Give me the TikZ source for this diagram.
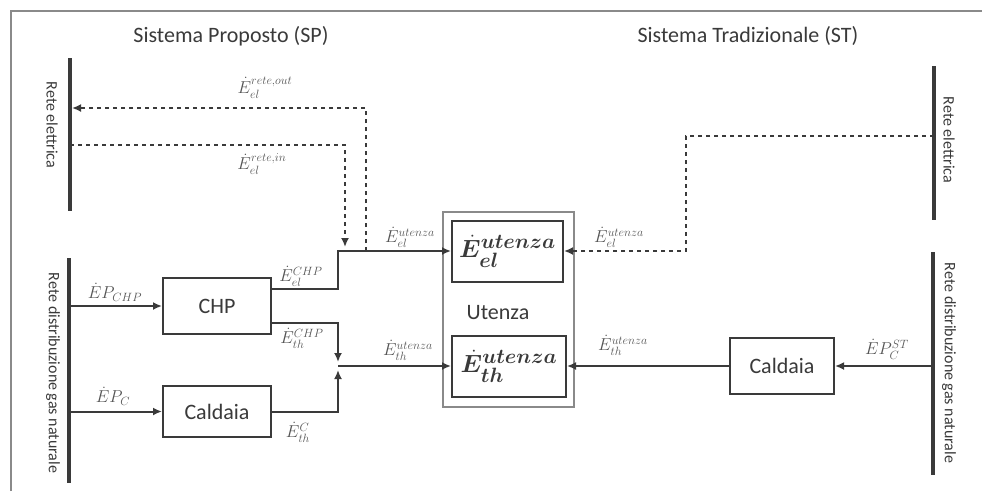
\documentclass[tikz,border=0pt]{standalone}
\usepackage{amsmath}
\usepackage{bm}
\usepackage{fontspec}
\setmainfont{Carlito}
\usetikzlibrary{arrows.meta,calc}
\definecolor{ln}{HTML}{3A3A3A}
\definecolor{fr}{HTML}{8A8A8A}
\definecolor{lb}{HTML}{555555}
\begin{document}
\begin{tikzpicture}[x=1pt,y=-1pt,
  every node/.style={inner sep=0pt},
  flow/.style={draw=ln,line width=2pt},
  tip/.style={-{Latex[length=9pt,width=8pt]}},
  arr/.style={flow,tip},
  dsh/.style={flow,dash pattern=on 4pt off 4pt,tip},
  bar/.style={draw=ln,line width=3.5pt},
  blk/.style={draw=ln,line width=2pt,fill=white,text=ln,font=\fontsize{22}{24}\selectfont},
  title/.style={text=ln,font=\fontsize{22}{24}\selectfont},
  side/.style={text=ln,rotate=-90,font=\fontsize{16}{18}\selectfont},
  lab/.style={text=lb,font=\fontsize{17}{19}\selectfont},
  big/.style={text=ln,font=\fontsize{29}{31}\selectfont}]
\useasboundingbox (0,0) rectangle (982,491);
% frame
\draw[fr,line width=2pt] (11,491) -- (11,11) -- (982,11);
% titles
\node[title] (t1) at (231,36) {Sistema Proposto (SP)};
\node[title] (t2) at (748,36) {Sistema Tradizionale (ST)};
% bars
\coordinate (reL1) at (70,58); \coordinate (reL2) at (70,211);
\coordinate (gasL1) at (69,258); \coordinate (gasL2) at (69,483);
\coordinate (reR1) at (934,66); \coordinate (reR2) at (934,220);
\coordinate (gasR1) at (933,252); \coordinate (gasR2) at (933,475);
\draw[bar] (reL1) -- (reL2);
\draw[bar] (gasL1) -- (gasL2);
\draw[bar] (reR1) -- (reR2);
\draw[bar] (gasR1) -- (gasR2);
\node[side] (sL1) at (52,125) {Rete elettrica};
\node[side] (sL2) at (53,373) {Rete distribuzione gas naturale};
\node[side] (sR1) at (949,140) {Rete elettrica};
\node[side] (sR2) at (949,363) {Rete distribuzione gas naturale};
% utenza
\node[draw=fr,line width=1.4pt,minimum width=131pt,minimum height=195pt] (ut) at (508.5,309.5) {};
\node[title] (utl) at (498,313) {Utenza};
\node[blk,minimum width=111pt,minimum height=61pt] (el) at (507.5,251) {};
\node[big] (elt) at (el) {$\bm{\dot{E}^{utenza}_{el}}$};
\node[blk,minimum width=114pt,minimum height=61pt] (th) at (509,366) {};
\node[big] (tht) at (th) {$\bm{\dot{E}^{utenza}_{th}}$};
% blocks
\node[blk,minimum width=108pt,minimum height=56pt] (chp) at (217,306) {CHP};
\node[blk,minimum width=108pt,minimum height=51pt] (cal1) at (217,411.5) {Caldaia};
\node[blk,minimum width=104pt,minimum height=56pt] (cal2) at (782,366) {Caldaia};
% junction coordinates
\coordinate (chpel) at ($(chp.north east)!0.2!(chp.south east)$);
\coordinate (chpth) at ($(chp.north east)!0.8!(chp.south east)$);
\coordinate (jel) at (338,251);
\coordinate (jout) at (366,251);
\coordinate (jin) at (345,247);
\coordinate (reout) at (72,108);
\coordinate (rein) at (70,145);
\coordinate (jthA) at (338,362);
\coordinate (jthB) at (338,370);
\coordinate (jth) at (338,366);
\coordinate (rerin) at (934,136);
\coordinate (jr) at (686,251);
% flows left
\draw[arr] (gasL1 |- chp.west) -- (chp.west);
\draw[arr] (gasL1 |- cal1.west) -- (cal1.west);
\draw[arr] (chpel) -| (jel) -- (el.west);
\draw[arr] (chpth) -| (jthA);
\draw[arr] (cal1.east) -| (jthB);
\draw[arr] (jth) -- (th.west);
\draw[dsh] (jout) |- (reout);
\draw[dsh] (rein) -| (jin);
% flows right
\draw[dsh] (rerin) -| (jr) -- (el.east);
\draw[arr] (gasR1 |- cal2.east) -- (cal2.east);
\draw[arr] (cal2.west) -- (th.east);
% labels
\node[lab] (l1) at (265,88) {$\dot{E}^{rete,out}_{el}$};
\node[lab] (l2) at (262,164) {$\dot{E}^{rete,in}_{el}$};
\node[lab] (l3) at (115,292) {$\dot{E}P_{CHP}$};
\node[lab] (l4) at (113,396) {$\dot{E}P_{C}$};
\node[lab] (l5) at (301,276) {$\dot{E}^{CHP}_{el}$};
\node[lab] (l6) at (302,338) {$\dot{E}^{CHP}_{th}$};
\node[lab] (l7) at (298,432) {$\dot{E}^{C}_{th}$};
\node[lab] (l8) at (410,237) {$\dot{E}^{utenza}_{el}$};
\node[lab] (l9) at (408,350) {$\dot{E}^{utenza}_{th}$};
\node[lab] (l10) at (619,237) {$\dot{E}^{utenza}_{el}$};
\node[lab] (l11) at (623,345) {$\dot{E}^{utenza}_{th}$};
\node[lab] (l12) at (887,349) {$\dot{E}P^{ST}_{C}$};
\end{tikzpicture}
\end{document}
